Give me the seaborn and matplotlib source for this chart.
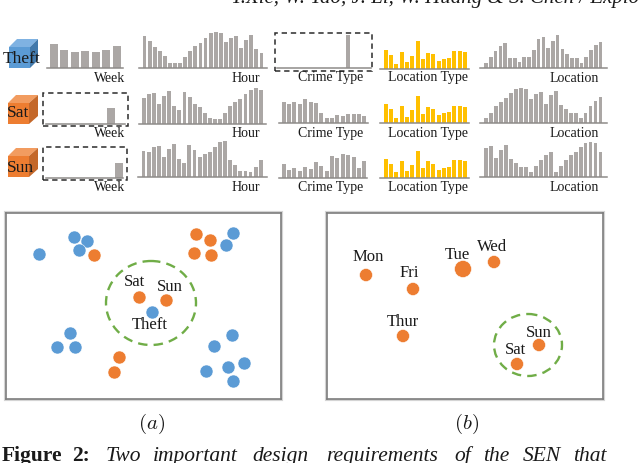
import matplotlib
matplotlib.use("Agg")
import matplotlib.pyplot as plt
import seaborn as sns
from matplotlib.patches import Ellipse, Polygon, Rectangle

W, H = 640, 463

# bar heights, read in units of a third of a pixel
week_theft = [73, 54, 49, 51, 48, 54, 67]
week_sat = [0, 0, 0, 0, 0, 47, 0]
week_sun = [0, 0, 0, 0, 0, 0, 45]
hour_theft = [97, 81, 62, 51, 35, 16, 16, 16, 32, 52, 67, 76, 90, 104, 107, 104, 78, 89, 95, 59, 84, 100, 56, 45]
hour_sat = [77, 89, 94, 59, 83, 98, 53, 43, 96, 80, 61, 50, 34, 18, 15, 15, 33, 53, 66, 75, 89, 102, 107, 103]
hour_sun = [78, 76, 89, 94, 59, 83, 99, 55, 43, 97, 80, 61, 69, 75, 89, 104, 107, 50, 36, 17, 17, 14, 31, 50]
crime_theft = [0, 0, 0, 0, 0, 0, 0, 0, 0, 0, 0, 0, 100, 0, 0, 0]
crime_sat = [63, 58, 63, 57, 71, 64, 61, 31, 16, 16, 23, 20, 27, 28, 28, 22]
crime_sun = [41, 23, 28, 20, 33, 26, 48, 34, 20, 66, 58, 72, 67, 62, 28, 50]
loctype_theft = [56, 42, 15, 51, 20, 39, 83, 29, 48, 44, 25, 31, 33, 53, 53, 50]
loctype_sat = [56, 41, 15, 51, 19, 38, 81, 28, 48, 42, 23, 29, 34, 51, 51, 48]
loctype_sun = [55, 40, 16, 49, 19, 37, 79, 28, 49, 42, 23, 29, 33, 52, 52, 49]
loc_theft = [16, 33, 52, 67, 76, 31, 31, 18, 34, 34, 54, 87, 94, 59, 82, 100, 56, 43, 31, 31, 16, 33, 54, 70, 78]
loc_sat = [16, 31, 51, 64, 75, 89, 101, 104, 102, 73, 86, 92, 58, 83, 96, 53, 42, 31, 31, 16, 31, 51, 67, 77]
loc_sun = [86, 93, 56, 81, 97, 54, 42, 31, 31, 15, 34, 51, 67, 75, 15, 34, 51, 67, 75, 90, 102, 106, 102, 75]

# scatter panels, read in image pixels
blue_x = [39, 74, 87, 79, 233, 226, 152, 70, 57, 75, 232, 214, 206, 228, 244, 233]
blue_y = [254, 237, 241, 250, 233, 245, 312, 333, 347, 347, 335, 346, 371, 367, 363, 381]
orange_x = [94, 196, 210, 194, 211, 139, 166, 119, 114]
orange_y = [255, 234, 240, 253, 255, 297, 300, 357, 372]
day_names = ["Mon", "Fri", "Tue", "Wed", "Thur", "Sun", "Sat"]
day_x = [366, 413, 463, 494, 403, 539, 517]
day_y = [275, 289, 269, 262, 336, 345, 364]
day_size = [88, 88, 150, 88, 88, 88, 88]

GREY = "#aba7a5"
GOLD = "#ffc000"
LINE = "#8e8b89"
BLUE = "#5b9bd5"
ORANGE = "#ed7d31"
GREEN = "#70ad47"

sns.set_style("white")
plt.rcParams["font.family"] = ["Liberation Serif", "DejaVu Serif"]
plt.rcParams["mathtext.fontset"] = "cm"

fig = plt.figure(figsize=(W / 100, H / 100), dpi=100)


def fx(x):
    return x / W


def fy(y):
    return 1 - y / H


def px_text(x, y, s, size=10, **kw):
    kw.setdefault("ha", "center")
    kw.setdefault("va", "center")
    fig.text(fx(x), fy(y), s, fontsize=size, color="#1a1a1a", **kw)


def bars(values, bar_span, line_span, base, color=GREY):
    # axes cover the baseline, the x limits put the bars where they belong
    x0, x1 = line_span
    ax = fig.add_axes([fx(x0), fy(base), (x1 - x0) / W, 40 / H])
    ax.patch.set_alpha(0)
    n = len(values)
    sns.barplot(x=list(range(n)), y=values, color=color, width=0.76, saturation=1,
                edgecolor="none", linewidth=0, ax=ax)
    unit = (bar_span[1] - bar_span[0]) / n
    ax.set_xlim(-0.5 - (bar_span[0] - x0) / unit, n - 0.5 + (x1 - bar_span[1]) / unit)
    ax.set_ylim(0, 120)
    ax.set_xticks([])
    ax.set_yticks([])
    ax.set_xlabel("")
    ax.set_ylabel("")
    sns.despine(ax=ax, left=True)
    ax.spines["bottom"].set_color(LINE)
    ax.spines["bottom"].set_linewidth(1.1)


bars(week_theft, (48.5, 122), (47, 123), 68)
bars(week_sat, (54.3, 127), (46, 125), 124)
bars(week_sun, (51, 123.8), (46, 123), 177.5)
bars(hour_theft, (142, 264), (139, 267), 68)
bars(hour_sat, (141.3, 263.3), (139, 266), 124)
bars(hour_sun, (141, 263.3), (138, 267), 177)
bars(crime_theft, (281, 367), (277, 371), 68)
bars(crime_sat, (281, 367), (279, 368), 123)
bars(crime_sun, (281, 367), (279, 367), 177.5)
bars(loctype_theft, (383.3, 467.5), (380, 469), 69, GOLD)
bars(loctype_sat, (383.3, 467.5), (380, 469), 123, GOLD)
bars(loctype_sun, (383.3, 467.5), (380, 469), 177.5, GOLD)
bars(loc_theft, (483.7, 603), (480, 607), 68)
bars(loc_sat, (483.7, 603), (480, 607), 123)
bars(loc_sun, (483.7, 603), (480, 607), 177)

for y in (78, 133.5, 187.5):
    px_text(110, y, "Week")
    px_text(246, y, "Hour")
    px_text(331, y, "Crime Type")
    px_text(428, y, "Location Type")
    px_text(574, y, "Location")


def box(x0, y0, x1, y1):
    fig.add_artist(Rectangle((fx(x0), fy(y1)), (x1 - x0) / W, (y1 - y0) / H, fill=False,
                             ec="#2b2b2b", lw=1.1, ls=(0, (3.5, 2.5)), transform=fig.transFigure))


box(275, 33, 372, 71)
box(43, 93, 128, 126)
box(43, 147, 127, 180)


def cube(x0, x1, xb, top, front, bottom, face, light, dark):
    d = front - top
    shapes = [
        ([(x0, front), (x1, front), (x1, bottom), (x0, bottom)], face),
        ([(x0, front), (x0 + d, top), (xb, top), (x1, front)], light),
        ([(x1, front), (xb, top), (xb, bottom - d), (x1, bottom)], dark),
    ]
    for pts, col in shapes:
        fig.add_artist(Polygon([(fx(a), fy(b)) for a, b in pts], fc=col, ec="none",
                               transform=fig.transFigure))


cube(9, 30, 38, 39, 47, 68, BLUE, "#7fb2e2", "#4279ab")
cube(8, 29, 38, 95, 103, 124, ORANGE, "#f29c60", "#c4682a")
cube(8, 29, 38, 148, 156, 177, ORANGE, "#f29c60", "#c4682a")
px_text(22, 59, "Theft", 12.5)
px_text(18, 113, "Sat", 12.5)
px_text(20, 168, "Sun", 12.5)


def panel(x0, x1, y0, y1):
    # soft shadow first, zorder below the axes so only its outer half shows
    fig.add_artist(Rectangle((fx(x0), fy(y1)), (x1 - x0) / W, (y1 - y0) / H, fill=False,
                             ec="#d4d4d4", lw=3, zorder=-1, transform=fig.transFigure))
    ax = fig.add_axes([fx(x0), fy(y1), (x1 - x0) / W, (y1 - y0) / H])
    ax.set_xlim(x0, x1)
    ax.set_ylim(y1, y0)
    ax.set_xticks([])
    ax.set_yticks([])
    for sp in ax.spines.values():
        sp.set_color("#7d7d7d")
        sp.set_linewidth(1.2)
    return ax


ax_a = panel(6, 281, 213, 399)
sns.scatterplot(x=blue_x, y=blue_y, color=BLUE, s=88, edgecolor="white", linewidth=0.4, ax=ax_a)
sns.scatterplot(x=orange_x, y=orange_y, color=ORANGE, s=88, edgecolor="white", linewidth=0.4, ax=ax_a)
ax_a.add_patch(Ellipse((151, 303), 90, 84, fill=False, ec=GREEN, lw=1.7, ls=(0, (4, 2.6))))
ax_a.text(134.5, 282, "Sat", fontsize=12, ha="center", va="center", color="#1a1a1a")
ax_a.text(170, 287, "Sun", fontsize=12, ha="center", va="center", color="#1a1a1a")
ax_a.text(150, 325, "Theft", fontsize=12, ha="center", va="center", color="#1a1a1a")

ax_b = panel(327, 603, 213, 399)
sns.scatterplot(x=day_x, y=day_y, color=ORANGE, size=day_size, sizes=(88, 150), legend=False,
                edgecolor="white", linewidth=0.4, ax=ax_b)
ax_b.add_patch(Ellipse((528, 345), 68, 62, fill=False, ec=GREEN, lw=1.7, ls=(0, (4, 2.6))))
label_x = [368, 409, 457, 492, 403, 539, 515]
label_y = [257, 273, 255, 247, 322, 333, 350]
for name, lx, ly in zip(day_names, label_x, label_y):
    ax_b.text(lx, ly, name, fontsize=12, ha="center", va="center", color="#1a1a1a")

px_text(152, 424, r"$(a)$", 15)
px_text(467, 424, r"$(b)$", 15)

# header and caption run off the page in the original
px_text(231, 3, "Y.Xie, W. Tao, J. Li, W. Huang & S. Chen / Exploring", 15, ha="left", va="baseline",
        style="italic")
px_text(2, 461, "Figure", 15.5, ha="left", va="baseline", weight="bold")
px_text(72, 461, "2:", 15.5, ha="left", va="baseline", weight="bold")
caption_words = ["Two", "important", "design", "requirements", "of", "the", "SEN", "that"]
caption_x = [106, 153, 252, 326, 454, 483, 523, 573]
for word, cx in zip(caption_words, caption_x):
    px_text(cx, 461, word, 15.5, ha="left", va="baseline", style="italic")

fig.savefig("out.png", dpi=100)
